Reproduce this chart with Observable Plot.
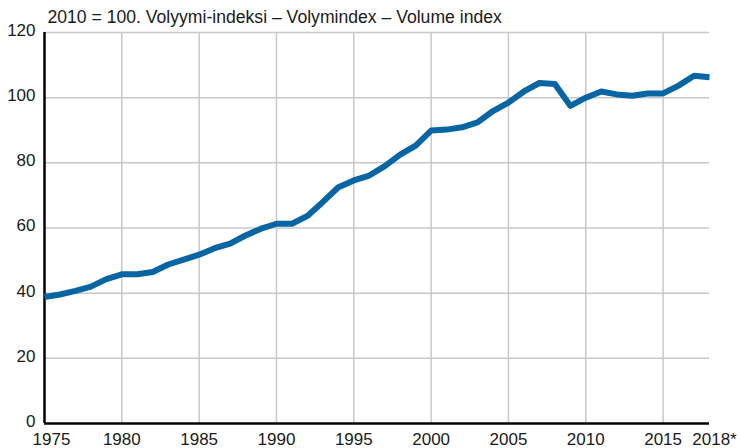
<!DOCTYPE html>
<html><head><meta charset="utf-8">
<script src="https://cdn.jsdelivr.net/npm/d3@7"></script>
<script src="https://cdn.jsdelivr.net/npm/@observablehq/plot@0.6"></script>
<style>html,body{margin:0;padding:0;background:#fff;} svg{display:block}</style>
</head><body><div id="chart"></div>
<script>
const years = [1975,1976,1977,1978,1979,1980,1981,1982,1983,1984,1985,1986,1987,1988,1989,1990,1991,1992,1993,1994,1995,1996,1997,1998,1999,2000,2001,2002,2003,2004,2005,2006,2007,2008,2009,2010,2011,2012,2013,2014,2015,2016,2017,2018];
const values = [38.8,39.6,40.7,42.0,44.3,45.8,45.8,46.5,48.8,50.3,51.8,53.8,55.2,57.7,59.8,61.3,61.3,63.7,68.0,72.5,74.6,76.1,79.0,82.5,85.3,89.9,90.2,90.9,92.4,95.9,98.5,101.9,104.5,104.2,97.5,100.0,101.9,101.0,100.6,101.3,101.3,103.7,106.7,106.3];
const xTicks = [1975,1980,1985,1990,1995,2000,2005,2010,2015,2018];
const xTickLabels = ["1975","1980","1985","1990","1995","2000","2005","2010","2015","2018*"];
const xGrid = [1980,1985,1990,1995,2000,2005,2010,2015];
const yTicks = [0,20,40,60,80,100,120];
const title = "2010 = 100. Volyymi-indeksi – Volymindex – Volume index";

const data = years.map((year, i) => ({year, value: values[i]}));
const labelOf = d => xTickLabels[xTicks.indexOf(d)];
const font = 17;
const ink = "#1a1a1a";

const chart = Plot.plot({
  width: 740, height: 448,
  marginTop: 32, marginLeft: 44, marginRight: 31, marginBottom: 25,
  style: {fontFamily: "'Liberation Sans', Arial, sans-serif", fontSize: font + "px", color: ink, background: "#fff"},
  x: {domain: [1975, 2018], label: null},
  y: {domain: [0, 120], label: null},
  marks: [
    Plot.ruleX(xGrid, {stroke: "#c8c8c8", strokeWidth: 1.5}),
    Plot.ruleY(yTicks.filter(d => d > 0), {stroke: "#c8c8c8", strokeWidth: 1.5}),
    Plot.ruleY([0], {stroke: "#000", strokeWidth: 2.5}),
    Plot.ruleX([1975], {stroke: "#000", strokeWidth: 2.5}),
    Plot.line(data, {x: "year", y: "value", stroke: "#0865a3", strokeWidth: 6, strokeLinejoin: "round", strokeLinecap: "butt"}),
    Plot.axisY(yTicks, {tickSize: 0, tickPadding: 9, dy: -2, fontSize: font, label: null, fill: ink}),
    Plot.axisX([xTicks[0]], {tickSize: 0, tickPadding: 9, dx: 7, fontSize: font, tickFormat: labelOf, label: null, fill: ink}),
    Plot.axisX(xTicks.slice(1, -1), {tickSize: 0, tickPadding: 9, fontSize: font, tickFormat: labelOf, label: null, fill: ink}),
    Plot.axisX([xTicks[xTicks.length - 1]], {tickSize: 0, tickPadding: 9, dx: 5, fontSize: font, tickFormat: labelOf, label: null, fill: ink}),
    Plot.text([title], {x: () => years[0], y: () => yTicks[yTicks.length - 1], textAnchor: "start", lineAnchor: "bottom", dx: 3, dy: -10, fontSize: 17.6, fill: ink})
  ]
});
document.getElementById("chart").append(chart);
</script>
</body></html>
